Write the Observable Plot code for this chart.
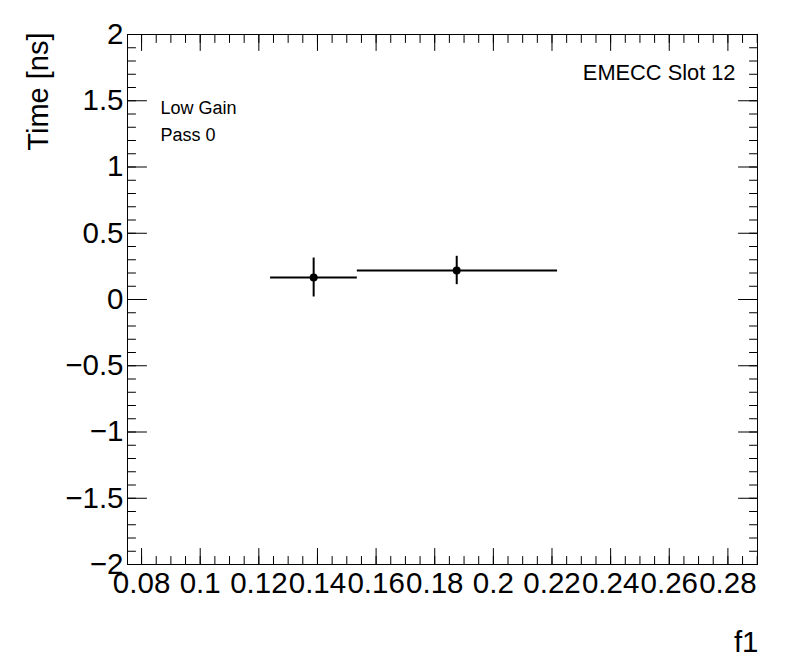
<!DOCTYPE html>
<html>
<head>
<meta charset="utf-8">
<script src="https://cdn.jsdelivr.net/npm/d3@7"></script>
<script src="https://cdn.jsdelivr.net/npm/@observablehq/plot@0.6"></script>
<style>
  html, body { margin: 0; padding: 0; background: #fff; }
  svg { display: block; font-family: "Liberation Sans", Arial, Helvetica, sans-serif; }
</style>
</head>
<body>
<div id="chart"></div>
<script>
// ---- data ----
const binLow  = [0.1240, 0.1536];
const binHigh = [0.1536, 0.2219];
const xMean   = [0.1387, 0.1875];
const yVal    = [0.166, 0.219];
const yErr    = [0.147, 0.107];

const xDomain = [0.0752, 0.2901];
const yDomain = [-2, 2];

const xMajor = [0.08, 0.10, 0.12, 0.14, 0.16, 0.18, 0.20, 0.22, 0.24, 0.26, 0.28];
const xTickLabels = ["0.08", "0.1", "0.12", "0.14", "0.16", "0.18", "0.2", "0.22", "0.24", "0.26", "0.28"];
const yMajor = [2, 1.5, 1, 0.5, 0, -0.5, -1, -1.5, -2];
const yTickLabels = ["2", "1.5", "1", "0.5", "0", "\u22120.5", "\u22121", "\u22121.5", "\u22122"];

const xMinor = d3.range(16, 59).map(i => i * 0.005).filter(v => v >= xDomain[0] && v <= xDomain[1]);
const yMinor = d3.range(-20, 21).map(i => i / 10);

const points = binLow.map((lo, i) => ({
  lo, hi: binHigh[i], x: xMean[i], y: yVal[i], ylo: yVal[i] - yErr[i], yhi: yVal[i] + yErr[i]
}));

const xLabelMap = new Map(xMajor.map((v, i) => [v, xTickLabels[i]]));
const yLabelMap = new Map(yMajor.map((v, i) => [v, yTickLabels[i]]));

const line = {draw(context, l) { context.moveTo(0, 0); context.lineTo(0, -l); }};

function ticksX(values, len) {
  return [
    Plot.vector(values, {x: d => d, frameAnchor: "bottom", length: len, rotate: 0, anchor: "start", shape: line, stroke: "black", strokeWidth: 1}),
    Plot.vector(values, {x: d => d, frameAnchor: "top", length: len, rotate: 180, anchor: "start", shape: line, stroke: "black", strokeWidth: 1})
  ];
}
function ticksY(values, len) {
  return [
    Plot.vector(values, {y: d => d, frameAnchor: "left", length: len, rotate: 90, anchor: "start", shape: line, stroke: "black", strokeWidth: 1}),
    Plot.vector(values, {y: d => d, frameAnchor: "right", length: len, rotate: -90, anchor: "start", shape: line, stroke: "black", strokeWidth: 1})
  ];
}

const chart = Plot.plot({
  width: 796,
  height: 672,
  marginLeft: 127,
  marginRight: 39,
  marginTop: 34,
  marginBottom: 108,
  style: {fontFamily: "'Liberation Sans', Arial, Helvetica, sans-serif", background: "#fff"},
  x: {domain: xDomain, axis: null},
  y: {domain: yDomain, axis: null},
  marks: [
    ...ticksX(xMinor, 8),
    ...ticksX(xMajor, 16),
    ...ticksY(yMinor, 8),
    ...ticksY(yMajor, 19),
    Plot.axisX(xMajor, {anchor: "bottom", tickSize: 0, tickPadding: 8, fontSize: 29.5, tickFormat: d => xLabelMap.get(d), fill: "black"}),
    Plot.axisY(yMajor, {anchor: "left", tickSize: 0, tickPadding: 4, fontSize: 29.5, tickFormat: d => yLabelMap.get(d), fill: "black"}),
    Plot.frame({stroke: "black", strokeWidth: 1}),
    Plot.ruleY(points, {y: "y", x1: "lo", x2: "hi", stroke: "black", strokeWidth: 2}),
    Plot.ruleX(points, {x: "x", y1: "ylo", y2: "yhi", stroke: "black", strokeWidth: 2}),
    Plot.dot(points, {x: "x", y: "y", r: 4, fill: "black", stroke: "none"}),
    Plot.text(["Time [ns]"], {frameAnchor: "top-left", rotate: -90, textAnchor: "end", lineAnchor: "bottom", dx: -80, dy: -2, fontSize: 29, fill: "black"}),
    Plot.text(["f1"], {frameAnchor: "bottom-right", textAnchor: "end", lineAnchor: "bottom", dy: 87, dx: 1, fontSize: 29.5, fill: "black"}),
    Plot.text(["EMECC Slot 12"], {frameAnchor: "top-right", textAnchor: "end", lineAnchor: "bottom", dx: -22, dy: 45, fontSize: 21.8, fill: "black"}),
    Plot.text(["Low Gain"], {frameAnchor: "top-left", textAnchor: "start", lineAnchor: "bottom", dx: 33, dy: 79, fontSize: 18, fill: "black"}),
    Plot.text(["Pass 0"], {frameAnchor: "top-left", textAnchor: "start", lineAnchor: "bottom", dx: 33, dy: 106, fontSize: 18, fill: "black"})
  ]
});
document.getElementById("chart").appendChild(chart);
</script>
</body>
</html>
